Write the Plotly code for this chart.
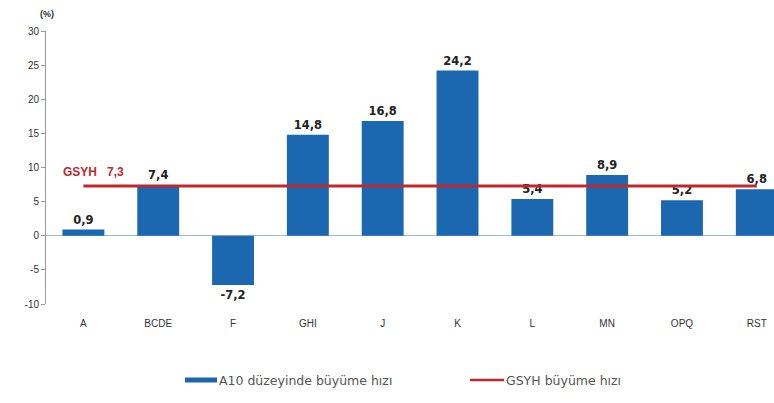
import plotly.graph_objects as go

categories = ["A", "BCDE", "F", "GHI", "J", "K", "L", "MN", "OPQ", "RST"]
a10_growth = [0.9, 7.4, -7.2, 14.8, 16.8, 24.2, 5.4, 8.9, 5.2, 6.8]
gsyh_growth = 7.3
label_texts = ["0,9", "7,4", "-7,2", "14,8", "16,8", "24,2", "5,4", "8,9", "5,2", "6,8"]
y_ticks = [-10, -5, 0, 5, 10, 15, 20, 25, 30]
y_tick_text = ["-10", "-5", "0", "5", "10", "15", "20", "25", "30"]
legend_bar = "A10 düzeyinde büyüme hızı"
legend_line = "GSYH büyüme hızı"

blue = "#1b68b0"
red = "#c0282d"
font_family = "Liberation Sans, Arial, sans-serif"
wide_font = "DejaVu Sans, sans-serif"

PLOT_W = 728
PLOT_H = 273

fig = go.Figure()
fig.add_trace(go.Bar(
    x=categories, y=a10_growth, name=legend_bar,
    marker=dict(color=blue, line=dict(width=0)),
    width=0.56,
    text=["<b>%s</b>" % t for t in label_texts], textposition="outside",
    textfont=dict(size=11.5, color="#222222", family=wide_font),
    cliponaxis=True,
))
fig.add_trace(go.Scatter(
    x=categories, y=[gsyh_growth] * len(categories), name=legend_line,
    mode="lines", line=dict(color=red, width=3),
))
fig.add_annotation(
    x=0, y=gsyh_growth, xref="x", yref="y",
    text="<b>GSYH   7,3</b>", showarrow=False,
    xshift=10, yshift=14, font=dict(size=12, color=red, family=font_family),
)
fig.add_annotation(
    x=0, y=1, xref="paper", yref="paper", text="<b>(%)</b>", showarrow=False,
    xanchor="left", yanchor="bottom", xshift=-8, yshift=10,
    font=dict(size=9, color="#333333", family=font_family),
)

# manual legend (paper coordinates)
leg_y = -76.0 / PLOT_H
x0 = (185 - 46) / PLOT_W
x1 = (217 - 46) / PLOT_W
fig.add_shape(type="rect", xref="paper", yref="paper", x0=x0, x1=x1,
              y0=leg_y - 2.5 / PLOT_H, y1=leg_y + 2.5 / PLOT_H,
              fillcolor=blue, line=dict(width=0))
fig.add_annotation(x=x1, y=leg_y, xref="paper", yref="paper", text=legend_bar,
                   showarrow=False, xanchor="left", yanchor="middle", xshift=0,
                   font=dict(size=12.5, color="#555555", family=wide_font))
lx0 = (470 - 46) / PLOT_W
lx1 = (504 - 46) / PLOT_W
fig.add_shape(type="line", xref="paper", yref="paper", x0=lx0, x1=lx1,
              y0=leg_y, y1=leg_y, line=dict(color=red, width=2.5))
fig.add_annotation(x=lx1, y=leg_y, xref="paper", yref="paper", text=legend_line,
                   showarrow=False, xanchor="left", yanchor="middle", xshift=0,
                   font=dict(size=12.5, color="#555555", family=wide_font))

fig.update_layout(
    width=774, height=403,
    margin=dict(l=46, r=0, t=31, b=99),
    plot_bgcolor="white", paper_bgcolor="white",
    font=dict(family=font_family, size=10, color="#333333"),
    showlegend=False,
    xaxis=dict(showline=False, ticks="", tickfont=dict(size=10, color="#333333"),
               range=[-0.5, 9.23], ticklabelstandoff=12),
    yaxis=dict(range=[-10, 30], tickvals=y_ticks, ticktext=y_tick_text, showgrid=False,
               showline=True, linecolor="#999999", linewidth=1,
               ticks="outside", ticklen=4, tickcolor="#999999",
               zeroline=True, zerolinecolor="#9bbad6", zerolinewidth=1,
               tickfont=dict(size=10, color="#333333")),
)

fig.write_html(
    "out.html",
    config={"displayModeBar": False},
    post_script="document.body.style.margin='0';document.body.style.overflow='hidden';",
)
